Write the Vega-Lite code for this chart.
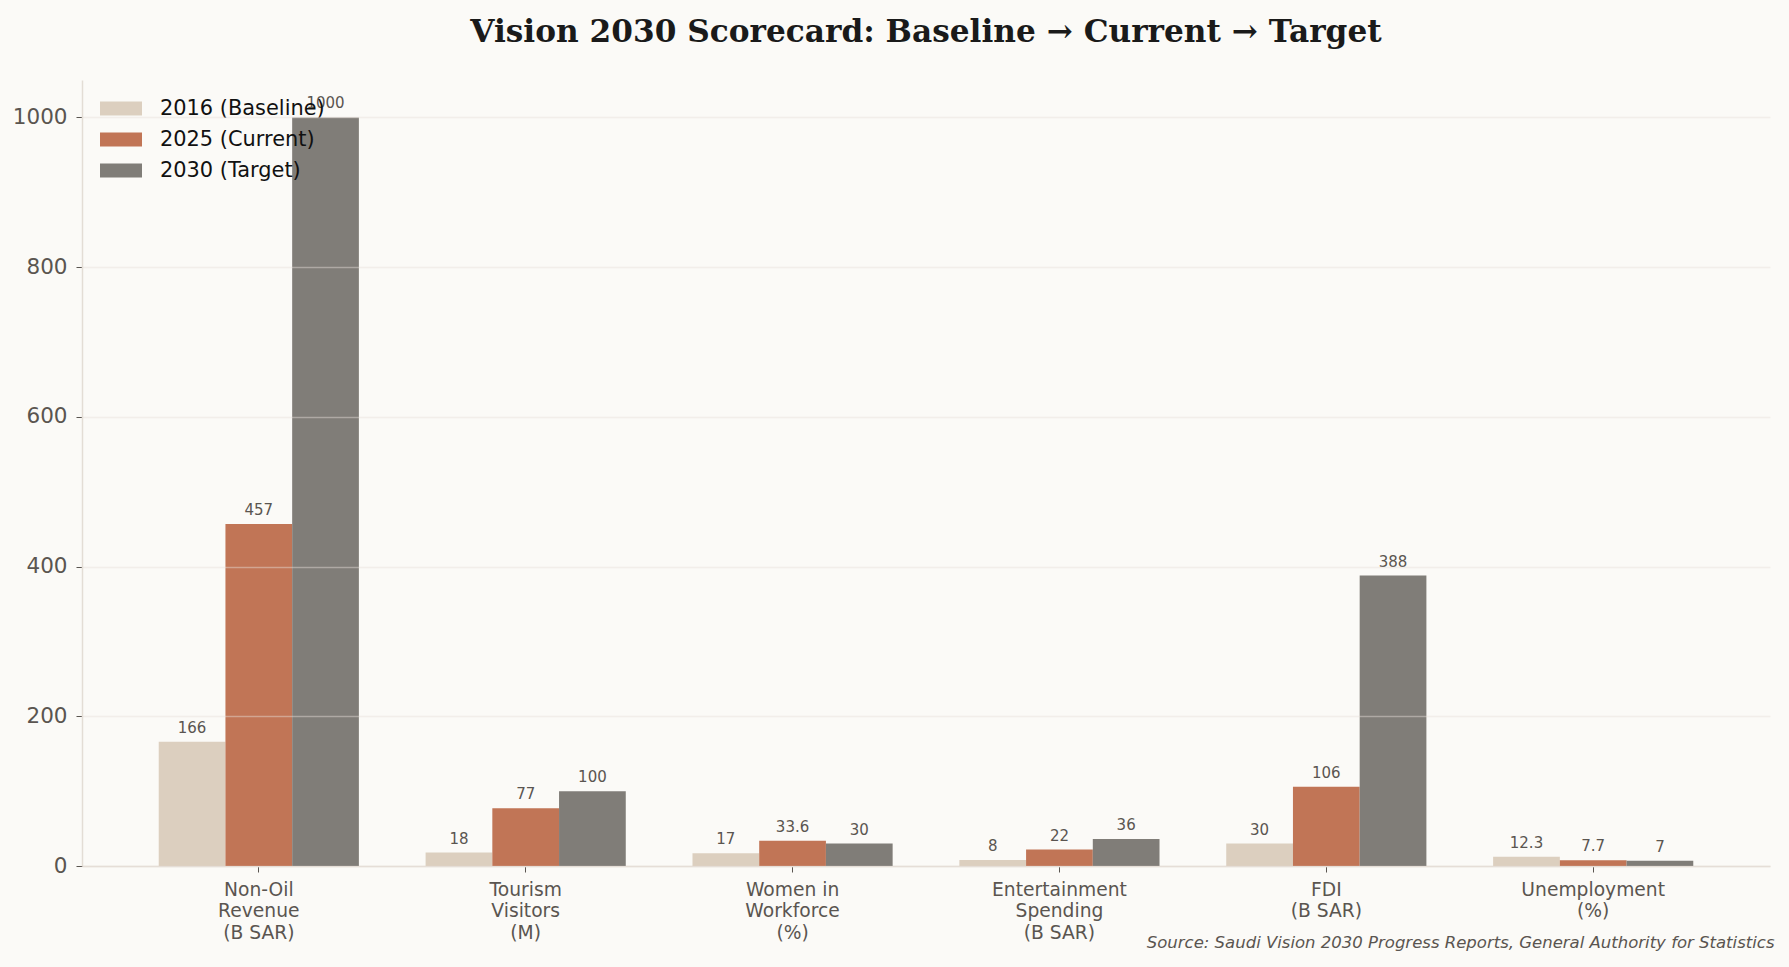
{
  "$schema": "https://vega.github.io/schema/vega-lite/v6.json",
  "width": 1688,
  "height": 786,
  "autosize": {"type": "none"},
  "padding": {"left": 82, "top": 80, "right": 19, "bottom": 101},
  "background": "#fbfaf7",
  "title": {
    "text": "Vision 2030 Scorecard: Baseline → Current → Target",
    "font": "DejaVu Serif",
    "fontSize": 31.2,
    "fontWeight": "bold",
    "color": "#1a1a1a",
    "anchor": "middle",
    "frame": "group",
    "offset": 32
  },
  "config": {"view": {"stroke": null}, "font": "DejaVu Sans"},
  "data": {
    "values": [
      {"metric": "Non-Oil\nRevenue\n(B SAR)", "period": "2016 (Baseline)", "value": 166},
      {"metric": "Non-Oil\nRevenue\n(B SAR)", "period": "2025 (Current)", "value": 457},
      {"metric": "Non-Oil\nRevenue\n(B SAR)", "period": "2030 (Target)", "value": 1000},
      {"metric": "Tourism\nVisitors\n(M)", "period": "2016 (Baseline)", "value": 18},
      {"metric": "Tourism\nVisitors\n(M)", "period": "2025 (Current)", "value": 77},
      {"metric": "Tourism\nVisitors\n(M)", "period": "2030 (Target)", "value": 100},
      {"metric": "Women in\nWorkforce\n(%)", "period": "2016 (Baseline)", "value": 17},
      {"metric": "Women in\nWorkforce\n(%)", "period": "2025 (Current)", "value": 33.6},
      {"metric": "Women in\nWorkforce\n(%)", "period": "2030 (Target)", "value": 30},
      {"metric": "Entertainment\nSpending\n(B SAR)", "period": "2016 (Baseline)", "value": 8},
      {"metric": "Entertainment\nSpending\n(B SAR)", "period": "2025 (Current)", "value": 22},
      {"metric": "Entertainment\nSpending\n(B SAR)", "period": "2030 (Target)", "value": 36},
      {"metric": "FDI\n(B SAR)", "period": "2016 (Baseline)", "value": 30},
      {"metric": "FDI\n(B SAR)", "period": "2025 (Current)", "value": 106},
      {"metric": "FDI\n(B SAR)", "period": "2030 (Target)", "value": 388},
      {"metric": "Unemployment\n(%)", "period": "2016 (Baseline)", "value": 12.3},
      {"metric": "Unemployment\n(%)", "period": "2025 (Current)", "value": 7.7},
      {"metric": "Unemployment\n(%)", "period": "2030 (Target)", "value": 7}
    ]
  },
  "encoding": {
    "x": {
      "field": "metric",
      "type": "nominal",
      "sort": null,
      "scale": {"paddingInner": 0.25, "paddingOuter": 0.2875},
      "axis": {
        "title": "Source: Saudi Vision 2030 Progress Reports, General Authority for Statistics",
        "labelExpr": "split(datum.label, '\\n')",
        "labelAngle": 0,
        "labelFontSize": 18.7,
        "labelColor": "#5a5550",
        "labelLineHeight": 21.8,
        "labelPadding": 8,
        "tickSize": 6,
        "tickColor": "#5a5550",
        "domainColor": "#e3ddd5",
        "domainWidth": 1.5,
        "grid": false,
        "titleX": 1692,
        "titleY": 76,
        "titleAlign": "right",
        "titleBaseline": "middle",
        "titleFontStyle": "italic",
        "titleFontWeight": "normal",
        "titleFontSize": 16.5,
        "titleColor": "#5a5550"
      }
    },
    "xOffset": {"field": "period", "type": "nominal", "sort": null},
    "y": {
      "field": "value",
      "type": "quantitative",
      "scale": {"domain": [0, 1050], "nice": false},
      "axis": {
        "title": null,
        "values": [0, 200, 400, 600, 800, 1000],
        "format": "d",
        "labelFontSize": 21.5,
        "labelColor": "#5a5550",
        "labelPadding": 9,
        "tickSize": 6,
        "tickColor": "#5a5550",
        "domainColor": "#e3ddd5",
        "domainWidth": 1.5,
        "grid": true,
        "gridColor": "#e6e1d9",
        "gridOpacity": 0.45,
        "gridWidth": 1.5,
        "zindex": 1
      }
    }
  },
  "layer": [
    {
      "mark": {"type": "bar"},
      "encoding": {
        "color": {
          "field": "period",
          "type": "nominal",
          "sort": null,
          "scale": {
            "domain": ["2016 (Baseline)", "2025 (Current)", "2030 (Target)"],
            "range": ["#dccfbf", "#c17556", "#807d78"]
          },
          "legend": {
            "title": null,
            "orient": "none",
            "legendX": 18,
            "legendY": 7.5,
            "symbolType": "M-1,-0.333L1,-0.333L1,0.333L-1,0.333Z",
            "symbolSize": 1764,
            "symbolStrokeWidth": 0,
            "symbolOpacity": 1,
            "labelFontSize": 20.9,
            "labelColor": "#111111",
            "labelOffset": 18,
            "labelLimit": 0,
            "rowPadding": -1
          }
        }
      }
    },
    {
      "mark": {"type": "text", "baseline": "bottom", "dy": -6, "fontSize": 15, "color": "#5a5550"},
      "encoding": {
        "text": {"field": "value", "type": "quantitative", "format": "~g"}
      }
    }
  ]
}
